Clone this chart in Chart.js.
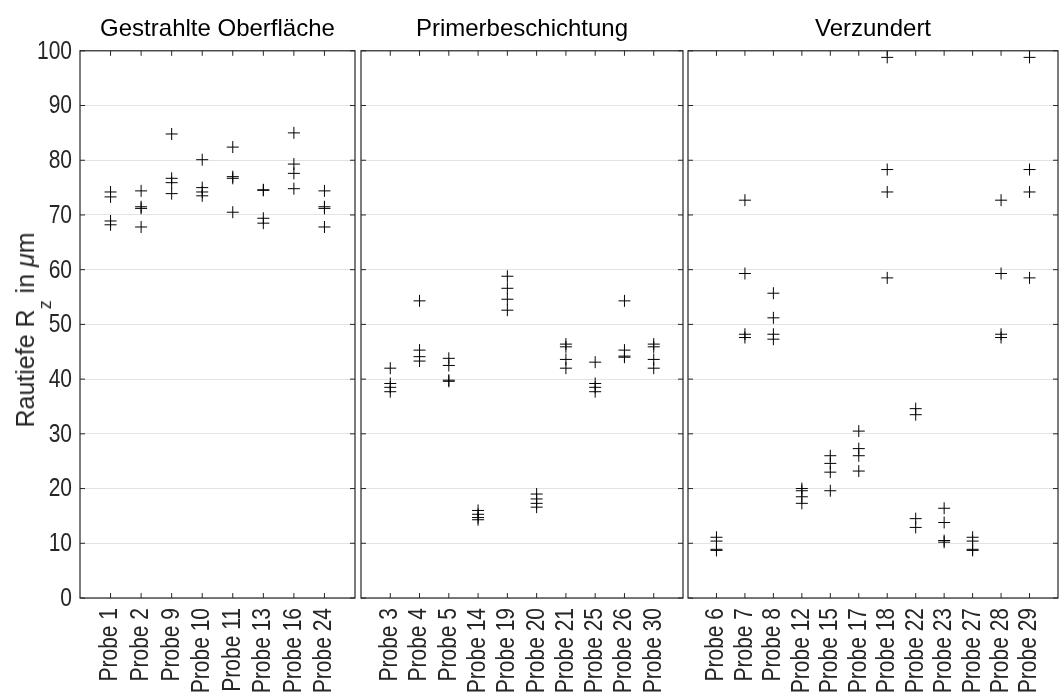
<!DOCTYPE html>
<html>
<head>
<meta charset="utf-8">
<script src="https://cdn.jsdelivr.net/npm/chart.js@4"></script>
<style>
  html, body { margin: 0; padding: 0; background: #fff; }
  #wrap { position: relative; width: 1059px; height: 695px; overflow: hidden; }
  .panel { position: absolute; top: 0; height: 695px; }
  #ylabel {
    position: absolute; left: 25px; top: 330px;
    transform: translate(-50%, -50%) rotate(-90deg);
    font-family: "Liberation Sans", Arial, sans-serif; font-size: 25px;
    line-height: 28px; color: #262626; white-space: nowrap;
  }
  #ylabel sub { font-size: 18px; vertical-align: baseline; position: relative; top: 17px; line-height: 0; }
</style>
</head>
<body>
<div id="wrap">
  <div class="panel" style="left:0;width:357px"><canvas id="c1"></canvas></div>
  <div class="panel" style="left:357px;width:328px"><canvas id="c2"></canvas></div>
  <div class="panel" style="left:685px;width:374px"><canvas id="c3"></canvas></div>
  <div id="ylabel">Rautiefe R<sub>z</sub> in <i>μ</i>m</div>
</div>
<script>
// Surface groups
const titleA = 'Gestrahlte Oberfläche';
const titleB = 'Primerbeschichtung';
const titleC = 'Verzundert';

const probesA = ['Probe 1', 'Probe 2', 'Probe 9', 'Probe 10', 'Probe 11', 'Probe 13', 'Probe 16', 'Probe 24'];
const valuesA = [
  [74.2, 73.3, 68.9, 68.2],
  [74.4, 71.5, 71.2, 67.8],
  [84.8, 76.7, 75.9, 73.9],
  [80.1, 75.0, 74.2, 73.5],
  [82.4, 77.0, 76.7, 70.5],
  [74.6, 74.5, 69.4, 68.5],
  [85.0, 79.3, 77.6, 74.8],
  [74.4, 71.5, 71.2, 67.8]
];

const probesB = ['Probe 3', 'Probe 4', 'Probe 5', 'Probe 14', 'Probe 19', 'Probe 20', 'Probe 21', 'Probe 25', 'Probe 26', 'Probe 30'];
const valuesB = [
  [42.0, 39.2, 38.5, 37.7],
  [54.3, 45.3, 44.1, 43.3],
  [43.8, 42.5, 39.8, 39.6],
  [16.0, 15.3, 14.7, 14.3],
  [58.8, 56.6, 54.6, 52.6],
  [19.0, 18.1, 17.3, 16.6],
  [46.4, 45.9, 43.6, 42.0],
  [43.1, 39.2, 38.5, 37.7],
  [54.3, 45.3, 44.2, 44.0],
  [46.4, 45.9, 43.6, 42.0]
];

const probesC = ['Probe 6', 'Probe 7', 'Probe 8', 'Probe 12', 'Probe 15', 'Probe 17', 'Probe 18', 'Probe 22', 'Probe 23', 'Probe 27', 'Probe 28', 'Probe 29'];
const valuesC = [
  [11.1, 10.4, 8.9, 8.7],
  [72.7, 59.3, 48.2, 47.6],
  [55.7, 51.2, 48.2, 47.3],
  [20.0, 19.6, 18.5, 17.3],
  [26.0, 24.6, 23.0, 19.6],
  [30.5, 27.3, 26.0, 23.2],
  [98.8, 78.3, 74.2, 58.5],
  [34.6, 33.5, 14.5, 12.9],
  [16.4, 13.8, 10.5, 10.2],
  [11.1, 10.4, 8.9, 8.7],
  [72.7, 59.3, 48.2, 47.6],
  [98.8, 78.3, 74.2, 58.5]
];

const yMin = 0, yMax = 100, yStep = 10;

const tickFontCss = '25px "Liberation Sans", Arial, sans-serif';
const tickSqueeze = 0.84;   // condensed tick lettering
const titleFont = { family: '"Liberation Sans", Arial, sans-serif', size: 24, weight: 'normal' };
const ink = '#262626';

// Box frame with short inward tick marks on all four sides
const framePlugin = {
  id: 'frame',
  beforeDatasetsDraw(chart) {
    const { ctx, chartArea: a, scales } = chart;
    const len = 5;
    ctx.save();
    ctx.strokeStyle = ink;
    ctx.lineWidth = 1.2;
    ctx.strokeRect(a.left, a.top, a.right - a.left, a.bottom - a.top);
    ctx.beginPath();
    scales.y.ticks.forEach(t => {
      const py = scales.y.getPixelForValue(t.value);
      ctx.moveTo(a.left, py); ctx.lineTo(a.left + len, py);
      ctx.moveTo(a.right, py); ctx.lineTo(a.right - len, py);
    });
    scales.x.ticks.forEach(t => {
      const px = scales.x.getPixelForValue(t.value);
      ctx.moveTo(px, a.top); ctx.lineTo(px, a.top + len);
      ctx.moveTo(px, a.bottom); ctx.lineTo(px, a.bottom - len);
    });
    ctx.lineWidth = 1;
    ctx.stroke();
    ctx.restore();
  }
};

// Condensed tick labels placed at the scales' tick positions
function tickLabelPlugin(probes, showY) {
  return {
    id: 'condensedTicks',
    afterDraw(chart) {
      const { ctx, chartArea: a, scales } = chart;
      ctx.save();
      ctx.font = tickFontCss;
      ctx.fillStyle = ink;
      ctx.textAlign = 'right';
      ctx.textBaseline = 'middle';
      scales.x.ticks.forEach(t => {
        const px = scales.x.getPixelForValue(t.value);
        ctx.save();
        ctx.translate(px, a.bottom + 10);
        ctx.rotate(-Math.PI / 2);
        ctx.scale(tickSqueeze, 1);
        ctx.fillText(probes[t.value - 1], 0, 0);
        ctx.restore();
      });
      if (showY) {
        scales.y.ticks.forEach(t => {
          const py = scales.y.getPixelForValue(t.value);
          ctx.save();
          ctx.translate(a.left - 8, py + 1);
          ctx.scale(tickSqueeze, 1);
          ctx.fillText(String(t.value), 0, 0);
          ctx.restore();
        });
      }
      ctx.restore();
    }
  };
}

function makePanel(id, title, probes, values, yWidth, padRight, showY) {
  const points = [];
  values.forEach((vals, i) => vals.forEach(v => points.push({ x: i + 1, y: v })));
  return new Chart(document.getElementById(id), {
    type: 'scatter',
    data: {
      datasets: [{
        data: points,
        pointStyle: 'cross',
        pointRadius: 6,
        pointHoverRadius: 6,
        borderColor: '#000',
        backgroundColor: '#000',
        pointBorderWidth: 1,
        clip: 8
      }]
    },
    options: {
      responsive: true,
      maintainAspectRatio: false,
      animation: false,
      events: [],
      layout: { autoPadding: false, padding: { left: 0, right: padRight, top: 0, bottom: 0 } },
      plugins: {
        legend: { display: false },
        tooltip: { enabled: false },
        title: {
          display: true, text: title, color: '#000', font: titleFont,
          fullSize: false,
          padding: { top: 15, bottom: 7 }
        }
      },
      scales: {
        x: {
          type: 'linear', min: 0, max: probes.length + 1,
          afterBuildTicks(scale) { scale.ticks = probes.map((_, i) => ({ value: i + 1 })); },
          afterFit(scale) {
            scale.height = 97;
            scale.paddingLeft = 0; scale.paddingRight = 0;
          },
          grid: { display: false, drawTicks: false },
          border: { display: false },
          ticks: { display: false }
        },
        y: {
          min: yMin, max: yMax,
          afterFit(scale) {
            scale.width = yWidth;
            scale.paddingTop = 0; scale.paddingBottom = 0;
          },
          grid: { color: '#e3e3e3', lineWidth: 1, drawTicks: false },
          border: { display: false },
          ticks: { display: false, stepSize: yStep }
        }
      }
    },
    plugins: [framePlugin, tickLabelPlugin(probes, showY)]
  });
}

makePanel('c1', titleA, probesA, valuesA, 80, 2, true);
makePanel('c2', titleB, probesB, valuesB, 4, 2, false);
makePanel('c3', titleC, probesC, valuesC, 3, 1, false);
</script>
</body>
</html>
